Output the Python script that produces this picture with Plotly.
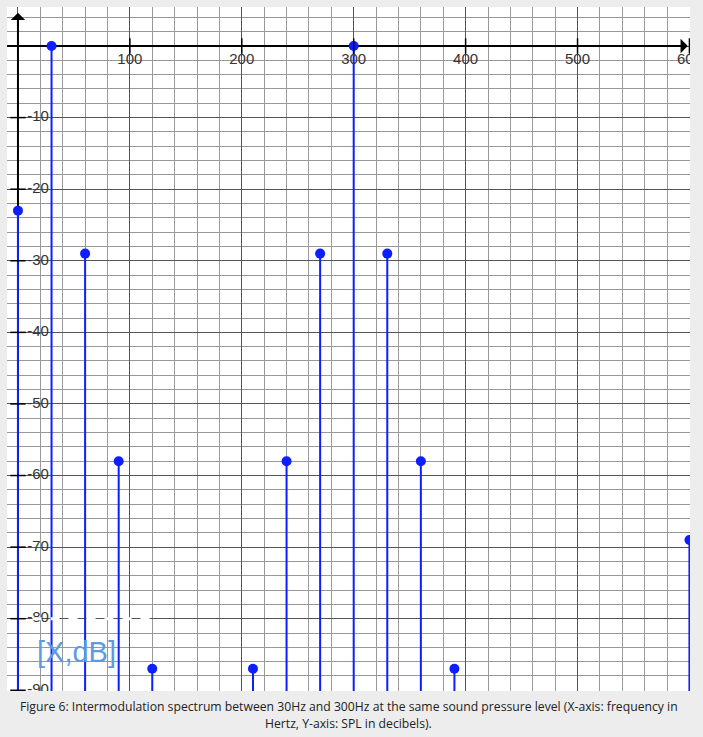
import plotly.graph_objects as go

# ---- data ----
freqs = [0, 30, 60, 90, 120, 210, 240, 270, 300, 330, 360, 390, 600]
levels = [-23, 0, -29, -58, -87, -87, -58, -29, 0, -29, -58, -87, -69]
x_ticks = [100, 200, 300, 400, 500, 600]
y_ticks = [-10, -20, -30, -40, -50, -60, -70, -80, -90]
x_range = [-9.8, 600.5]
y_range = [-90.1, 5.45]
unit_label = "[X,dB]"
caption1 = "Figure 6: Intermodulation spectrum between 30Hz and 300Hz at the same sound pressure level (X-axis: frequency in"
caption2 = "Hertz, Y-axis: SPL in decibels)."

BLUE = "#0d1eff"
W, H = 703, 737
stem_floor = y_range[0] - 10
TICKFONT = dict(family="Liberation Sans, Arial", size=15, color="#333333")
XLABEL_OFFSET = -1.95   # dB below the x axis
YLABEL_OFFSET = 18.0    # Hz right of the y axis

fig = go.Figure()

# stems
sx, sy = [], []
for f, v in zip(freqs, levels):
    sx += [f, f, None]
    sy += [v, stem_floor, None]
fig.add_trace(go.Scatter(x=sx, y=sy, mode="lines",
                         line=dict(color=BLUE, width=2), hoverinfo="skip",
                         showlegend=False))
fig.add_trace(go.Scatter(x=freqs, y=levels, mode="markers",
                         marker=dict(color=BLUE, size=10), cliponaxis=True,
                         showlegend=False))

# axis tick marks
fig.add_trace(go.Scatter(x=x_ticks, y=[0] * len(x_ticks), mode="markers",
                         marker=dict(symbol="line-ns", size=11,
                                     line=dict(color="black", width=1.5)),
                         hoverinfo="skip", showlegend=False))
fig.add_trace(go.Scatter(x=[0] * len(y_ticks), y=y_ticks, mode="markers",
                         marker=dict(symbol="line-ew", size=11,
                                     line=dict(color="black", width=1.5)),
                         hoverinfo="skip", showlegend=False))

# tick labels (as clipped text traces)
fig.add_trace(go.Scatter(x=x_ticks, y=[XLABEL_OFFSET] * len(x_ticks), mode="text",
                         text=[str(t) for t in x_ticks], textposition="middle center",
                         textfont=TICKFONT, cliponaxis=True, hoverinfo="skip",
                         showlegend=False))
fig.add_trace(go.Scatter(x=[YLABEL_OFFSET] * len(y_ticks), y=y_ticks, mode="text",
                         text=[str(t) for t in y_ticks], textposition="middle center",
                         textfont=TICKFONT, cliponaxis=True, hoverinfo="skip",
                         showlegend=False))

shapes = [
    dict(type="line", xref="x", yref="y", x0=0, x1=0, y0=y_range[0] - 5, y1=y_range[1] - 1,
         line=dict(color="black", width=2), layer="between"),
    dict(type="line", xref="x", yref="y", x0=x_range[0] - 5, x1=x_range[1] - 4, y0=0, y1=0,
         line=dict(color="black", width=2), layer="between"),
    # white dashed overlay line near the unit label
    dict(type="line", xref="x", yref="y", x0=13, x1=120, y0=-80, y1=-80,
         line=dict(color="white", width=3, dash="dash"), layer="above"),
]

annotations = []
# arrowheads
annotations.append(dict(x=0, y=y_range[1] - 0.8, ax=0, ay=y_range[1] - 3,
                        xref="x", yref="y", axref="x", ayref="y", text="",
                        showarrow=True, arrowhead=1, arrowsize=1.2, arrowwidth=2,
                        arrowcolor="black"))
annotations.append(dict(x=x_range[1] - 2, y=0, ax=x_range[1] - 20, ay=0,
                        xref="x", yref="y", axref="x", ayref="y", text="",
                        showarrow=True, arrowhead=1, arrowsize=1.2, arrowwidth=2,
                        arrowcolor="black"))
# unit label
annotations.append(dict(x=15, y=-84.6, xref="x", yref="y", text=unit_label,
                        showarrow=False, xanchor="left", yanchor="middle",
                        font=dict(family="Liberation Sans, Arial", size=29, color="#5c9ae6")))
# caption
annotations.append(dict(x=0.5, y=0, xref="paper", yref="paper", text=caption1,
                        showarrow=False, xanchor="center", yanchor="middle", yshift=-15.5,
                        font=dict(family="Open Sans", size=12.2, color="#222222")))
annotations.append(dict(x=0.5, y=0, xref="paper", yref="paper", text=caption2,
                        showarrow=False, xanchor="center", yanchor="middle", yshift=-32.5,
                        font=dict(family="Open Sans", size=12.2, color="#222222")))

fig.update_layout(
    width=W, height=H,
    margin=dict(l=7, r=13, t=7, b=46),
    paper_bgcolor="#ededed", plot_bgcolor="white",
    shapes=shapes, annotations=annotations,
    xaxis=dict(range=x_range, tick0=0, dtick=100, showgrid=True,
               gridcolor="#555555", gridwidth=1.3, zeroline=False,
               showticklabels=False, ticks="", showline=False,
               minor=dict(tick0=0, dtick=20, showgrid=True, gridcolor="#999999", gridwidth=1)),
    yaxis=dict(range=y_range, tick0=0, dtick=10, showgrid=True,
               gridcolor="#555555", gridwidth=1.3, zeroline=False,
               showticklabels=False, ticks="", showline=False,
               minor=dict(tick0=0, dtick=2, showgrid=True, gridcolor="#999999", gridwidth=1)),
)

fig.write_html("out.html")
